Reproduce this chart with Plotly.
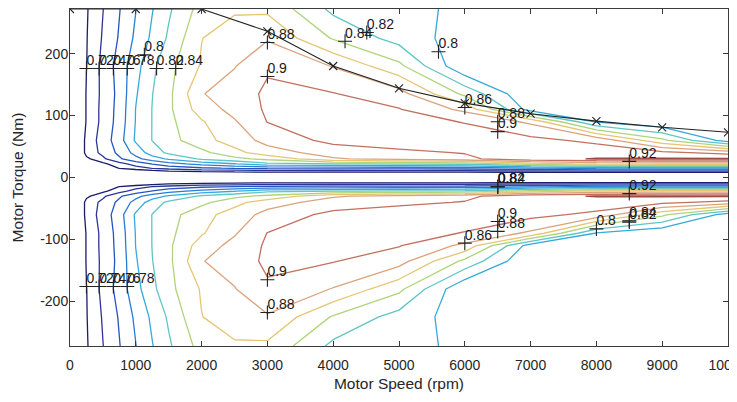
import plotly.graph_objects as go

# Grid of the efficiency map
speed_rpm = [0, 250, 500, 750, 1000, 1250, 1500, 2000, 2500, 3000, 4000, 5000, 6000, 7000, 8000, 9000, 10000]
torque_nm = [-272, -225, -180, -135, -110, -90, -60, -40, -30, -22, -15, -8, 0,
             8, 15, 22, 30, 40, 60, 90, 110, 135, 180, 225, 272]

eff_m272 = [0.66, 0.718, 0.7395, 0.759, 0.7795, 0.799, 0.817, 0.848, 0.857, 0.856, 0.815, 0.812, 0.792, 0.79, 0.79, 0.79, 0.79]
eff_m225 = [0.66, 0.719, 0.742, 0.762, 0.784, 0.804, 0.823, 0.8595, 0.871, 0.878, 0.838, 0.812, 0.79, 0.79, 0.79, 0.79, 0.79]
eff_m180 = [0.66, 0.7195, 0.746, 0.768, 0.793, 0.815, 0.834, 0.862, 0.879, 0.897, 0.879, 0.845, 0.782, 0.785, 0.785, 0.785, 0.785]
eff_m135 = [0.66, 0.722, 0.745, 0.766, 0.798, 0.8195, 0.835, 0.879, 0.889, 0.904, 0.901, 0.888, 0.835, 0.781, 0.782, 0.782, 0.782]
eff_m110 = [0.66, 0.722, 0.746, 0.767, 0.8005, 0.8205, 0.836, 0.87, 0.886, 0.903, 0.908, 0.901, 0.875, 0.79, 0.783, 0.782, 0.782]
eff_m90 = [0.66, 0.722, 0.746, 0.768, 0.801, 0.8205, 0.835, 0.858, 0.878, 0.9005, 0.908, 0.908, 0.899, 0.876, 0.798, 0.782, 0.782]
eff_m60 = [0.66, 0.728, 0.748, 0.772, 0.803, 0.8205, 0.833, 0.852, 0.87, 0.886, 0.906, 0.91, 0.91, 0.906, 0.895, 0.845, 0.79]
eff_m40 = [0.66, 0.728, 0.745, 0.765, 0.787, 0.81, 0.824, 0.835, 0.853, 0.872, 0.888, 0.896, 0.901, 0.908, 0.912, 0.905, 0.893]
eff_m30 = [0.66, 0.715, 0.736, 0.757, 0.774, 0.79, 0.803, 0.823, 0.835, 0.845, 0.878, 0.886, 0.895, 0.915, 0.921, 0.922, 0.922]
eff_m22 = [0.62, 0.68, 0.715, 0.733, 0.748, 0.761, 0.772, 0.787, 0.799, 0.815, 0.819, 0.822, 0.825, 0.85, 0.865, 0.87, 0.87]
eff_m15 = [0.58, 0.64, 0.69, 0.722, 0.733, 0.741, 0.748, 0.757, 0.762, 0.765, 0.767, 0.768, 0.77, 0.778, 0.787, 0.79, 0.79]
eff_m8 = [0.50, 0.55, 0.60, 0.65, 0.69, 0.70, 0.705, 0.71, 0.713, 0.715, 0.716, 0.716, 0.716, 0.716, 0.716, 0.716, 0.716]
eff_0 = [0.40, 0.40, 0.40, 0.40, 0.40, 0.40, 0.40, 0.40, 0.40, 0.40, 0.40, 0.40, 0.40, 0.40, 0.40, 0.40, 0.40]
eff_p8 = [0.50, 0.55, 0.60, 0.65, 0.69, 0.70, 0.705, 0.71, 0.713, 0.715, 0.716, 0.716, 0.716, 0.716, 0.716, 0.716, 0.716]
eff_p15 = [0.58, 0.64, 0.69, 0.722, 0.733, 0.741, 0.748, 0.757, 0.762, 0.765, 0.767, 0.768, 0.77, 0.778, 0.787, 0.79, 0.79]
eff_p22 = [0.62, 0.68, 0.715, 0.733, 0.748, 0.761, 0.772, 0.787, 0.799, 0.815, 0.819, 0.822, 0.825, 0.85, 0.865, 0.87, 0.87]
eff_p30 = [0.66, 0.715, 0.736, 0.757, 0.774, 0.79, 0.803, 0.823, 0.835, 0.845, 0.878, 0.886, 0.895, 0.915, 0.921, 0.922, 0.922]
eff_p40 = [0.66, 0.728, 0.745, 0.765, 0.787, 0.81, 0.824, 0.835, 0.853, 0.872, 0.888, 0.896, 0.901, 0.908, 0.912, 0.905, 0.893]
eff_p60 = [0.66, 0.728, 0.748, 0.772, 0.803, 0.8205, 0.833, 0.852, 0.87, 0.886, 0.906, 0.91, 0.91, 0.906, 0.895, 0.845, 0.79]
eff_p90 = [0.66, 0.722, 0.746, 0.768, 0.801, 0.8205, 0.835, 0.858, 0.878, 0.9005, 0.908, 0.908, 0.899, 0.876, 0.798, 0.782, 0.782]
eff_p110 = [0.66, 0.722, 0.746, 0.767, 0.8005, 0.8205, 0.836, 0.87, 0.886, 0.903, 0.908, 0.901, 0.875, 0.79, 0.783, 0.782, 0.782]
eff_p135 = [0.66, 0.722, 0.745, 0.766, 0.798, 0.8195, 0.835, 0.879, 0.889, 0.904, 0.901, 0.888, 0.835, 0.781, 0.782, 0.782, 0.782]
eff_p180 = [0.66, 0.7195, 0.746, 0.768, 0.793, 0.815, 0.834, 0.862, 0.879, 0.897, 0.879, 0.845, 0.782, 0.785, 0.785, 0.785, 0.785]
eff_p225 = [0.66, 0.719, 0.742, 0.762, 0.784, 0.804, 0.823, 0.8595, 0.871, 0.878, 0.838, 0.812, 0.79, 0.79, 0.79, 0.79, 0.79]
eff_p272 = [0.66, 0.718, 0.7395, 0.759, 0.7795, 0.799, 0.817, 0.848, 0.857, 0.856, 0.815, 0.812, 0.792, 0.79, 0.79, 0.79, 0.79]

efficiency = [eff_m272, eff_m225, eff_m180, eff_m135, eff_m110, eff_m90, eff_m60, eff_m40, eff_m30,
              eff_m22, eff_m15, eff_m8, eff_0, eff_p8, eff_p15, eff_p22, eff_p30, eff_p40, eff_p60,
              eff_p90, eff_p110, eff_p135, eff_p180, eff_p225, eff_p272]

# Maximum torque envelope
env_speed = [0, 1000, 2000, 3000, 4000, 5000, 6000, 7000, 8000, 9000, 10000]
env_torque = [272, 272, 272, 236, 180, 144, 120, 103, 91, 81, 73]

# Contour labels (clabel style)
lab_speed = [250, 443, 659, 870, 1130, 1316, 1607,
             3000, 3000, 4180, 4510, 5600, 6000, 6500, 6500, 8500,
             6500, 6500, 6500,
             8500, 6000, 6500, 6500, 8000, 8500, 8500, 3000, 3000,
             250, 443, 659, 870]
lab_torque = [176, 176, 176, 176, 198, 176, 176,
              218, 163, 220, 234, 203, 113, 90, 74, 26,
              -15, -15, -15,
              -26, -106, -87, -71, -83, -72, -70, -165, -218,
              -176, -176, -176, -176]
lab_text = ['0.72', '0.74', '0.76', '0.78', '0.8', '0.82', '0.84',
            '0.88', '0.9', '0.84', '0.82', '0.8', '0.86', '0.88', '0.9', '0.92',
            '0.8', '0.82', '0.84',
            '0.92', '0.86', '0.88', '0.9', '0.8', '0.82', '0.84', '0.9', '0.88',
            '0.72', '0.74', '0.76', '0.78']

x_ticks = [0, 1000, 2000, 3000, 4000, 5000, 6000, 7000, 8000, 9000, 10000]
x_tick_text = ['0', '1000', '2000', '3000', '4000', '5000', '6000', '7000', '8000', '9000', '10000']
y_ticks = [-200, -100, 0, 100, 200]
y_tick_text = ['-200', '-100', '0', '100', '200']

level_colors = ['#1b1d6a', '#2c3597', '#2454bd', '#2a7bd2', '#36a9dc', '#5ec6c4',
                '#afd47a', '#e6c675', '#dba27c', '#c2705f', '#9e4a45']
colorscale = [[i / (len(level_colors) - 1), c] for i, c in enumerate(level_colors)]

FONT = 'Liberation Sans, Arial, sans-serif'

fig = go.Figure()
fig.add_trace(go.Contour(
    x=speed_rpm, y=torque_nm, z=efficiency,
    contours=dict(start=0.72, end=0.92, size=0.02, coloring='lines', showlabels=False),
    colorscale=colorscale, showscale=False, line=dict(width=1.3, smoothing=0),
    hoverinfo='skip'))
fig.add_trace(go.Scatter(
    x=env_speed, y=env_torque, mode='lines+markers',
    line=dict(color='#222222', width=1.1),
    marker=dict(symbol='x-thin', size=8, line=dict(color='#222222', width=1.1)),
    showlegend=False))
fig.add_trace(go.Scatter(
    x=lab_speed, y=lab_torque, mode='markers',
    marker=dict(symbol='cross-thin', size=10, color='#222222', line=dict(color='#222222', width=1.1)),
    showlegend=False))
fig.add_trace(go.Scatter(
    x=lab_speed, y=lab_torque, mode='text', text=lab_text,
    textposition='top right',
    textfont=dict(family=FONT, size=14, color='#1a1a1a'),
    showlegend=False))

axis_common = dict(showline=True, linecolor='#3a3a3a', linewidth=1, mirror='ticks',
                   ticks='inside', ticklen=5, tickcolor='#3a3a3a', showgrid=False, zeroline=False,
                   automargin=False,
                   tickfont=dict(family=FONT, size=14, color='#262626'))
fig.update_xaxes(range=[0, 10000], tickvals=x_ticks, ticktext=x_tick_text, ticklabeloverflow='allow',
                 ticklabelstandoff=6,
                 title=dict(text='Motor Speed (rpm)', font=dict(family=FONT, size=15.5, color='#262626'),
                            standoff=6),
                 **axis_common)
fig.update_yaxes(range=[-272, 272], tickvals=y_ticks, ticktext=y_tick_text, ticklabelstandoff=-2,
                 title=dict(text='Motor Torque (Nm)', font=dict(family=FONT, size=15.5, color='#262626'),
                            standoff=12),
                 **axis_common)
# the page body adds an 8 px offset, so the figure is sized to keep the plot box in place
fig.update_layout(width=729, height=394, margin=dict(l=62, r=9, t=1, b=56),
                  paper_bgcolor='white', plot_bgcolor='white', showlegend=False)
fig.write_html('out.html')
